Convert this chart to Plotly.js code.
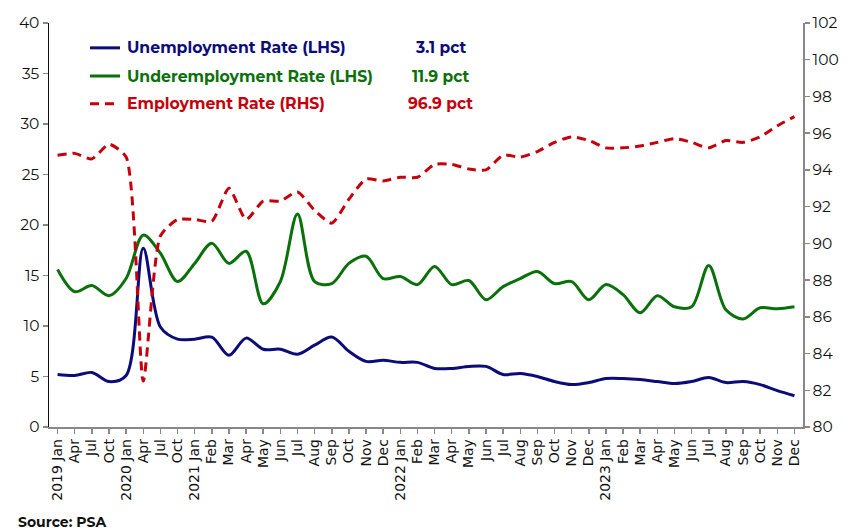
<!DOCTYPE html>
<html>
<head>
<meta charset="utf-8">
<script src="https://cdn.plot.ly/plotly-3.0.1.min.js"></script>
<style>html,body{margin:0;padding:0;background:#fff;}#chart{width:850px;height:531px;}</style>
</head>
<body>
<div id="chart"></div>
<script>
// Tick labels (x axis), one per observation
var tickLabels = ["2019 Jan","Apr","Jul","Oct",
  "2020 Jan","Apr","Jul","Oct",
  "2021 Jan","Feb","Mar","Apr","May","Jun","Jul","Aug","Sep","Oct","Nov","Dec",
  "2022 Jan","Feb","Mar","Apr","May","Jun","Jul","Aug","Sep","Oct","Nov","Dec",
  "2023 Jan","Feb","Mar","Apr","May","Jun","Jul","Aug","Sep","Oct","Nov","Dec"];

// Unemployment rate (LHS, %)
var unemployment = [5.2,5.1,5.4,4.5,
  5.1,17.7,9.9,8.7,
  8.7,8.9,7.1,8.8,7.7,7.7,7.2,8.1,8.9,7.5,6.5,6.6,
  6.4,6.4,5.8,5.8,6.0,6.0,5.2,5.3,5.0,4.5,4.2,4.4,
  4.8,4.8,4.7,4.5,4.3,4.5,4.9,4.4,4.5,4.2,3.6,3.1];

// Underemployment rate (LHS, %)
var underemployment = [15.6,13.4,14.0,13.0,
  14.7,19.0,17.2,14.4,
  16.2,18.2,16.2,17.4,12.2,14.4,21.1,14.4,14.2,16.2,16.9,14.7,
  14.9,14.1,15.9,14.1,14.5,12.6,13.9,14.7,15.4,14.2,14.4,12.6,
  14.1,13.1,11.3,13.0,11.9,11.9,16.0,11.6,10.7,11.8,11.7,11.9];

// Employment rate (RHS, %)
var employment = [94.8,94.9,94.6,95.4,
  94.7,82.5,90.4,91.3,
  91.3,91.2,93.0,91.3,92.3,92.3,92.8,91.8,91.1,92.4,93.5,93.4,
  93.6,93.6,94.3,94.3,94.05,94.0,94.8,94.7,95.0,95.5,95.8,95.6,
  95.2,95.2,95.3,95.5,95.7,95.5,95.2,95.6,95.5,95.8,96.4,96.9];

var seriesNames = ["Unemployment Rate (LHS)","Underemployment Rate (LHS)","Employment Rate (RHS)"];
var seriesColors = ["#0c0c78","#0a700a","#c4000c"];

var xIdx = tickLabels.map(function(_, i){ return i; });

var traces = [
  {x:xIdx, y:unemployment, type:'scatter', mode:'lines', name:seriesNames[0],
   line:{color:seriesColors[0], width:3, shape:'spline', smoothing:0.9}, yaxis:'y', showlegend:false},
  {x:xIdx, y:underemployment, type:'scatter', mode:'lines', name:seriesNames[1],
   line:{color:seriesColors[1], width:3, shape:'spline', smoothing:0.9}, yaxis:'y', showlegend:false},
  {x:xIdx, y:employment, type:'scatter', mode:'lines', name:seriesNames[2],
   line:{color:seriesColors[2], width:3, shape:'spline', smoothing:0.6, dash:'9px,6px'}, yaxis:'y2', showlegend:false}
];

var lastVals = [unemployment, underemployment, employment].map(function(a){ return a[a.length-1].toFixed(1) + ' pct'; });

var rowsY = [0.9385, 0.8688, 0.800];
var annotations = [];
var shapes = [];
for (var k = 0; k < 3; k++) {
  annotations.push({xref:'paper', yref:'paper', x:0.1008, y:rowsY[k], xanchor:'left', yanchor:'middle',
    text:'<b>' + seriesNames[k] + '</b>', showarrow:false,
    font:{family:'Montserrat, "Open Sans", sans-serif', size:15.7, color:seriesColors[k]}});
  annotations.push({xref:'paper', yref:'paper', x:0.5186, y:rowsY[k], xanchor:'center', yanchor:'middle',
    text:'<b>' + lastVals[k] + '</b>', showarrow:false,
    font:{family:'Montserrat, "Open Sans", sans-serif', size:15.5, color:seriesColors[k]}});
  shapes.push({type:'line', xref:'paper', yref:'paper', x0:0.0544, x1:0.0942, y0:rowsY[k], y1:rowsY[k],
    line:{color:seriesColors[k], width:3, dash: k===2 ? '9px,6px' : 'solid'}});
}
annotations.push({xref:'paper', yref:'paper', x:0, y:0, xshift:-33, yshift:-95, xanchor:'left', yanchor:'middle',
  text:'<b>Source: PSA</b>', showarrow:false,
  font:{family:'Montserrat, "Open Sans", sans-serif', size:14, color:'#111'}});

var layout = {
  width:850, height:531,
  margin:{l:49, r:47, t:23, b:104, pad:0},
  paper_bgcolor:'#fff', plot_bgcolor:'#fff',
  showlegend:false,
  xaxis:{range:[-0.5, 43.5], tickmode:'array', tickvals:xIdx, ticktext:tickLabels, tickangle:-90,
    showgrid:false, zeroline:false, showline:true, linecolor:'#888', linewidth:1.5,
    ticks:'outside', ticklen:5, tickcolor:'#888', tickwidth:1.5,
    tickfont:{family:'"DejaVu Sans", sans-serif', size:14, color:'#111'}},
  yaxis:{range:[0,40], dtick:5, tick0:0, showgrid:false, zeroline:false, showline:true, linecolor:'#111', linewidth:1.5,
    ticks:'outside', ticklen:5, tickcolor:'#888', tickwidth:1.5,
    tickfont:{family:'Montserrat, "Open Sans", sans-serif', size:15.5, color:'#111'}},
  yaxis2:{range:[80,102], dtick:2, tick0:80, overlaying:'y', side:'right', showgrid:false, zeroline:false,
    showline:true, linecolor:'#888', linewidth:1.5, ticks:'outside', ticklen:5, tickcolor:'#888', tickwidth:1.5,
    tickfont:{family:'Montserrat, "Open Sans", sans-serif', size:15.5, color:'#111'}},
  annotations:annotations,
  shapes:shapes
};

Plotly.newPlot('chart', traces, layout, {staticPlot:true, displayModeBar:false});
</script>
</body>
</html>
